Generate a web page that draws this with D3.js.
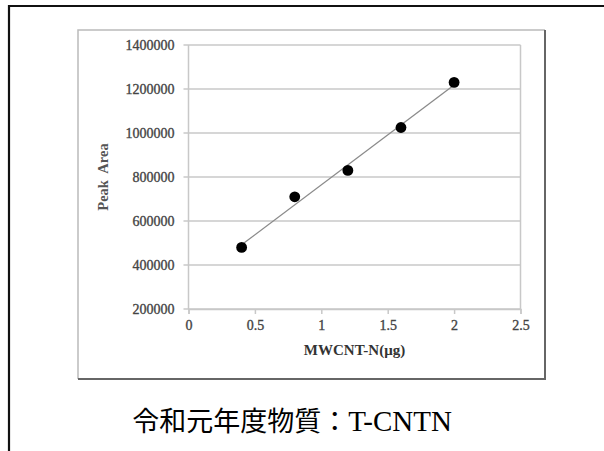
<!DOCTYPE html>
<html><head><meta charset="utf-8">
<script src="https://cdn.jsdelivr.net/npm/d3@7"></script>
<style>html,body{margin:0;padding:0;background:#fff;}svg{display:block;}</style>
</head><body>
<script>
const xValues = [0.4, 0.8, 1.2, 1.6, 2.0];
const yValues = [480000, 710000, 830000, 1025000, 1230000];
const xTicks = [0, 0.5, 1, 1.5, 2, 2.5];
const yTicks = [200000, 400000, 600000, 800000, 1000000, 1200000, 1400000];
const xTitle = "MWCNT-N(μg)";
const yTitle = "Peak  Area";
const caption = "令和元年度物質：";
const captionLatin = "T-CNTN";

const W = 604, H = 451;
const svg = d3.select("body").append("svg").attr("width", W).attr("height", H);

// outer frame
svg.append("path").attr("d", `M9,${H} V6 H${W}`).attr("fill","none").attr("stroke","#111").attr("stroke-width",2.2);

// inner chart box
svg.append("path").attr("d","M78,379 V30 H545").attr("fill","none").attr("stroke","#bbb").attr("stroke-width",1.5);
svg.append("path").attr("d","M545,30 V379 H78").attr("fill","none").attr("stroke","#666").attr("stroke-width",2);

const x = d3.scaleLinear().domain([0, 2.5]).range([188.5, 520.5]);
const y = d3.scaleLinear().domain([200000, 1400000]).range([309, 45]);

const tickFont = "Liberation Serif";
// gridlines
svg.append("g").selectAll("line").data(yTicks).join("line")
  .attr("x1", x(0)-5).attr("x2", x(2.5)).attr("y1", d=>y(d)).attr("y2", d=>y(d))
  .attr("stroke","#c8c8c8").attr("stroke-width",1.5);

// y axis
const yAxis = d3.axisLeft(y).tickValues(yTicks).tickSize(0).tickPadding(14).tickFormat(d3.format("d"));
const gy = svg.append("g").attr("transform",`translate(${x(0)},0)`).call(yAxis);
gy.select(".domain").remove();
gy.selectAll("text").attr("font-family",tickFont).attr("font-size",14).attr("fill","#444")
  .attr("stroke","#444").attr("stroke-width",0.35);

// x axis
const xAxis = d3.axisBottom(x).tickValues(xTicks).tickSize(5).tickPadding(6).tickFormat(d=>String(d));
const gx = svg.append("g").attr("transform",`translate(0,${y(200000)})`).call(xAxis);
gx.select(".domain").attr("stroke","#c8c8c8").attr("stroke-width",1.5);
gx.selectAll(".tick line").attr("stroke","#c8c8c8").attr("stroke-width",1.5);
gx.selectAll("text").attr("font-family",tickFont).attr("font-size",14).attr("fill","#444")
  .attr("stroke","#444").attr("stroke-width",0.35);

// plot left & right borders
svg.append("line").attr("x1",x(0)).attr("x2",x(0)).attr("y1",y(1400000)).attr("y2",y(200000)).attr("stroke","#c8c8c8").attr("stroke-width",1.5);
svg.append("line").attr("x1",x(2.5)).attr("x2",x(2.5)).attr("y1",y(1400000)).attr("y2",y(200000)).attr("stroke","#c8c8c8").attr("stroke-width",1.5);

// trendline (least squares from data)
const mx = d3.mean(xValues), my = d3.mean(yValues);
const slope = d3.sum(xValues.map((v,i)=>(v-mx)*(yValues[i]-my))) / d3.sum(xValues.map(v=>(v-mx)*(v-mx)));
const icpt = my - slope*mx;
const x0 = d3.min(xValues), x1 = d3.max(xValues);
svg.append("line").attr("x1",x(x0)).attr("y1",y(icpt+slope*x0)).attr("x2",x(x1)).attr("y2",y(icpt+slope*x1))
  .attr("stroke","#8a8a8a").attr("stroke-width",1.3);

// points
svg.append("g").selectAll("circle").data(xValues).join("circle")
  .attr("cx",(d)=>x(d)).attr("cy",(d,i)=>y(yValues[i])).attr("r",5.4).attr("fill","#000");

// axis titles
svg.append("text").attr("x",(x(0)+x(2.5))/2).attr("y",355).attr("text-anchor","middle")
  .attr("font-family",tickFont).attr("font-weight","bold").attr("font-size",15).attr("fill","#333").text(xTitle);
svg.append("text").attr("transform",`translate(108,${(y(200000)+y(1400000))/2}) rotate(-90)`).attr("text-anchor","middle")
  .attr("font-family",tickFont).attr("font-weight","bold").attr("font-size",14.5).attr("fill","#555")
  .attr("xml:space","preserve").style("white-space","pre").text(yTitle);

// caption
const cap = svg.append("text").attr("x",292).attr("y",431).attr("text-anchor","middle").attr("fill","#000");
cap.append("tspan").attr("font-family","Noto Sans CJK JP").attr("font-size",27).text(caption);
cap.append("tspan").attr("font-family","Liberation Serif").attr("font-size",29).text(captionLatin);
</script>
</body></html>
